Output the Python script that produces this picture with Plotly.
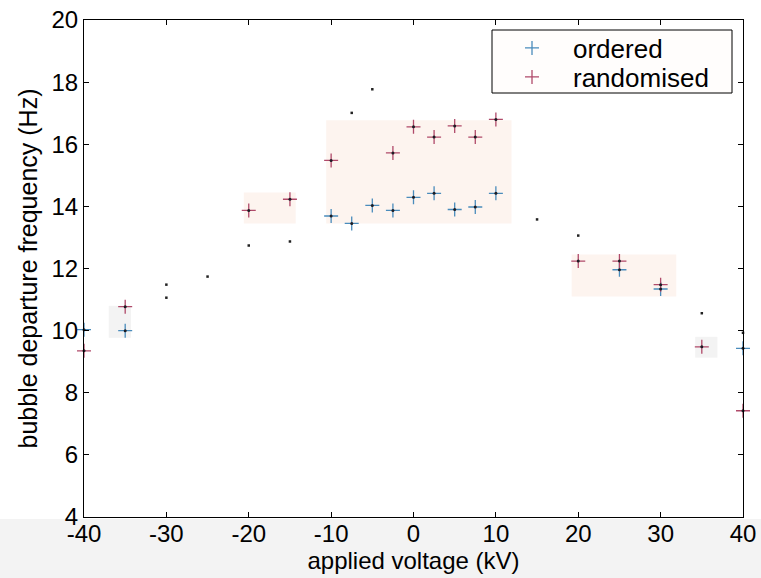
import plotly.graph_objects as go

# Bubble departure frequency against applied voltage
x_ordered = [-40, -35, -10, -7.5, -5, -2.5, 0, 2.5, 5, 7.5, 10, 25, 30, 40]
ordered = [10.03, 10.0, 13.69, 13.45, 14.03, 13.87, 14.29, 14.42, 13.9, 13.98, 14.42, 11.96, 11.34, 9.43]

x_random = [-40, -35, -20, -15, -10, -2.5, 0, 2.5, 5, 7.5, 10, 20, 25, 30, 35, 40]
randomised = [9.35, 10.77, 13.87, 14.23, 15.48, 15.72, 16.56, 16.23, 16.59, 16.23, 16.8,
              12.24, 12.24, 11.48, 9.48, 7.42]

# isolated single readings (no legend entry)
x_other = [-30, -30, -25, -20, -15, -7.5, -5, 15, 20, 35, 40]
other = [11.48, 11.06, 11.74, 12.74, 12.87, 17.01, 17.77, 13.58, 13.06, 10.56, 9.93]

x_ticks = [-40, -30, -20, -10, 0, 10, 20, 30, 40]
y_ticks = [4, 6, 8, 10, 12, 14, 16, 18, 20]

FONT = "Liberation Sans, Arial, sans-serif"
BLUE = "#4a8cbc"
RED = "#b04a6a"

# plot-area geometry in pixels (used to place paper-referenced items)
L, R, T, B = 84, 743, 20, 517
W, H = R - L, B - T


def px_x(p):
    return (p - L) / W


def px_y(p):
    return (B - p) / H


fig = go.Figure()
fig.add_trace(go.Scatter(
    x=x_ordered, y=ordered, mode="markers", name="ordered", legend="legend",
    cliponaxis=False,
    marker=dict(symbol="cross-thin", size=10, line=dict(width=1.3, color=BLUE)),
))
fig.add_trace(go.Scatter(
    x=x_random, y=randomised, mode="markers", name="randomised", legend="legend2",
    cliponaxis=False,
    marker=dict(symbol="cross-thin", size=10, line=dict(width=1.3, color=RED)),
))
# dark centre dots on each cross
for xs, ys in ((x_ordered, ordered), (x_random, randomised)):
    fig.add_trace(go.Scatter(
        x=xs, y=ys, mode="markers", showlegend=False, hoverinfo="skip", cliponaxis=False,
        marker=dict(symbol="circle", size=3, color="#1c1c24"),
    ))
fig.add_trace(go.Scatter(
    x=x_other, y=other, mode="markers", name="other", showlegend=False, cliponaxis=False,
    marker=dict(symbol="square", size=2.5, color="#222222"),
))

shapes = [
    # grey strip beneath the axes
    dict(type="rect", xref="paper", yref="paper", x0=-0.2, x1=1.1, y0=-0.2, y1=-0.004,
         fillcolor="#f3f3f3", line=dict(width=0), layer="below"),
    # faint tinted patches behind groups of readings
    dict(type="rect", xref="x", yref="y", x0=-10.6, x1=11.9, y0=13.45, y1=16.77,
         fillcolor="#fdf4ef", line=dict(width=0), layer="below"),
    dict(type="rect", xref="x", yref="y", x0=-20.6, x1=-14.3, y0=13.45, y1=14.45,
         fillcolor="#fdf4ef", line=dict(width=0), layer="below"),
    dict(type="rect", xref="x", yref="y", x0=19.2, x1=31.9, y0=11.1, y1=12.45,
         fillcolor="#fdf4ef", line=dict(width=0), layer="below"),
    dict(type="rect", xref="x", yref="y", x0=-37.0, x1=-34.3, y0=9.77, y1=10.8,
         fillcolor="#f3f3f3", line=dict(width=0), layer="below"),
    dict(type="rect", xref="x", yref="y", x0=34.2, x1=36.9, y0=9.13, y1=9.8,
         fillcolor="#f3f3f3", line=dict(width=0), layer="below"),
    # legend frame
    dict(type="rect", xref="paper", yref="paper",
         x0=px_x(492), x1=px_x(732), y0=px_y(93), y1=px_y(30),
         fillcolor="#fffdfc", line=dict(width=1, color="black"), layer="above"),
]

legend_common = dict(
    xanchor="left", yanchor="middle", bgcolor="rgba(0,0,0,0)", borderwidth=0,
    font=dict(family=FONT, size=26), itemwidth=72,
)

fig.update_layout(
    width=761, height=578,
    margin=dict(l=L, r=761 - R, t=T, b=578 - B),
    paper_bgcolor="white", plot_bgcolor="white",
    font=dict(family=FONT, size=24, color="black"),
    showlegend=True,
    legend=dict(x=px_x(491), y=px_y(48), **legend_common),
    legend2=dict(x=px_x(491), y=px_y(77), **legend_common),
    shapes=shapes,
)
fig.update_xaxes(
    range=[-40, 40], tickvals=x_ticks, ticktext=[str(v) for v in x_ticks],
    showgrid=False, zeroline=False, automargin=False,
    showline=True, linecolor="black", linewidth=1, mirror="allticks",
    ticks="inside", ticklen=5, tickcolor="black", ticklabelstandoff=-5,
    tickfont=dict(size=24), title=dict(text="applied voltage (kV)", font=dict(size=24), standoff=2),
)
fig.update_yaxes(
    range=[4, 20], tickvals=y_ticks, ticktext=[str(v) for v in y_ticks],
    showgrid=False, zeroline=False, automargin=False,
    showline=True, linecolor="black", linewidth=1, mirror="allticks",
    ticks="inside", ticklen=5, tickcolor="black",
    tickfont=dict(size=24), title=dict(text="bubble departure frequency (Hz)", font=dict(size=25), standoff=6),
)

fig.write_html("out.html")
